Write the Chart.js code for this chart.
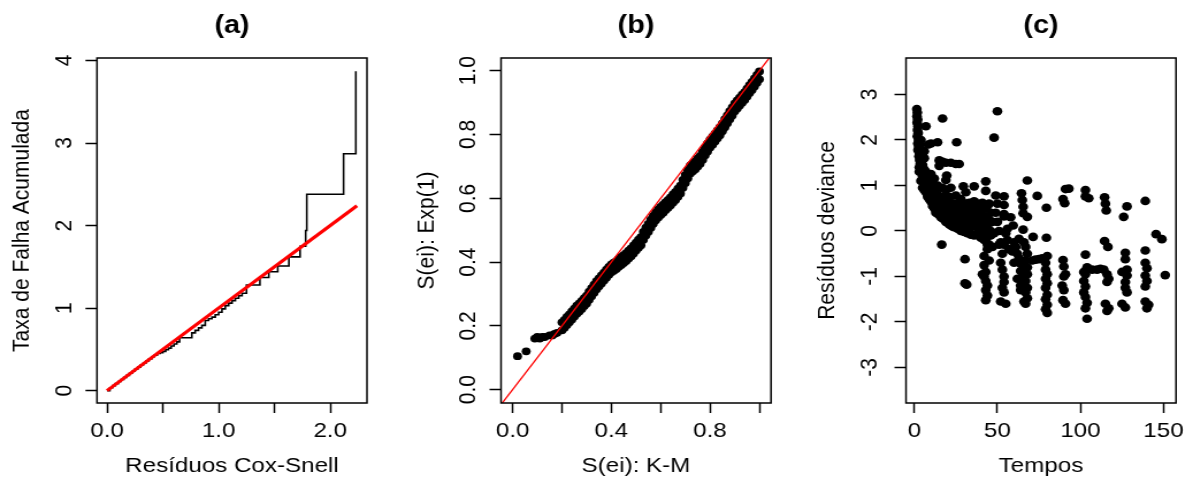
<!DOCTYPE html>
<html>
<head>
<meta charset="utf-8">
<script src="https://cdn.jsdelivr.net/npm/chart.js@4"></script>
<style>
  html, body { margin: 0; padding: 0; background: #fff; }
  #wrap { position: relative; width: 1193px; height: 479px; overflow: hidden; }
  #wrap canvas { position: absolute; left: 0; top: 0; }
</style>
</head>
<body>
<div id="wrap">
  <canvas id="panelA" width="1037" height="479" style="width:1193px;height:479px"></canvas>
  <canvas id="panelB" width="1037" height="479" style="width:1193px;height:479px"></canvas>
  <canvas id="panelC" width="1037" height="479" style="width:1193px;height:479px"></canvas>
</div>
<script>
const FONT = "'Liberation Sans', Arial, sans-serif";
const PAGE_W = 1193, PAGE_H = 479, CANVAS_W = 1037;
const K = CANVAS_W / PAGE_W;          // buffer is stretched sideways by the css width
const FS = 21, LH = FS * 1.2;
const PLOT_TOP = 58, PLOT_BOTTOM = 403, X_TITLE_Y = 466;

// (a) Cox-Snell residuals vs. Nelson-Aalen cumulative hazard
const coxSnell  = [0, 0.025, 0.05, 0.075, 0.1, 0.125, 0.15, 0.175, 0.2, 0.225, 0.25, 0.275, 0.3, 0.325,
                   0.35, 0.375, 0.4, 0.425, 0.45, 0.475, 0.5, 0.525, 0.55, 0.575, 0.6, 0.625, 0.65, 0.76,
                   0.79, 0.82, 0.85, 0.88, 0.91, 0.94, 0.97, 1.0, 1.03, 1.06, 1.09, 1.12, 1.15, 1.18, 1.21,
                   1.25, 1.37, 1.45, 1.53, 1.63, 1.73, 1.78, 1.79, 2.12, 2.23];
const cumHazard = [0, 0.035, 0.06, 0.085, 0.11, 0.135, 0.16, 0.185, 0.21, 0.235, 0.26, 0.285, 0.31, 0.335,
                   0.36, 0.385, 0.41, 0.43, 0.45, 0.46, 0.475, 0.495, 0.515, 0.54, 0.565, 0.59, 0.64, 0.7,
                   0.73, 0.76, 0.79, 0.85, 0.87, 0.89, 0.92, 0.95, 0.99, 1.03, 1.06, 1.09, 1.12, 1.15, 1.18,
                   1.28, 1.37, 1.44, 1.51, 1.62, 1.75, 1.94, 2.38, 2.87, 3.87];
const refLine = [0, 2.24];

// (b) Kaplan-Meier survival of the residuals vs. Exp(1) survival
const survLow = [[0.02,0.105],[0.055,0.12],[0.09,0.16],[0.1,0.165],[0.11,0.16],[0.12,0.165],[0.13,0.165],
                 [0.15,0.17],[0.16,0.17],[0.17,0.175],[0.18,0.178]];
// K-M value, highest and lowest Exp(1) value at that step
const survBand = [
  [0.2,0.211,0.186],[0.21,0.219,0.194],[0.22,0.228,0.203],[0.23,0.236,0.211],[0.24,0.245,0.22],
  [0.25,0.254,0.229],[0.26,0.263,0.238],[0.27,0.27,0.245],[0.28,0.278,0.253],[0.29,0.287,0.262],
  [0.3,0.295,0.27],[0.31,0.307,0.282],[0.32,0.318,0.293],[0.33,0.329,0.304],[0.34,0.34,0.315],
  [0.35,0.349,0.324],[0.36,0.358,0.333],[0.37,0.367,0.342],[0.38,0.376,0.351],[0.39,0.385,0.36],
  [0.4,0.393,0.368],[0.41,0.398,0.373],[0.42,0.403,0.378],[0.43,0.41,0.385],[0.44,0.416,0.391],
  [0.45,0.422,0.397],[0.46,0.428,0.403],[0.47,0.436,0.411],[0.48,0.443,0.418],[0.49,0.452,0.427],
  [0.5,0.461,0.436],[0.51,0.47,0.445],[0.52,0.478,0.453],[0.53,0.495,0.47],[0.54,0.508,0.483],
  [0.55,0.52,0.495],[0.56,0.533,0.508],[0.57,0.545,0.52],[0.58,0.556,0.531],[0.59,0.565,0.54],
  [0.6,0.573,0.548],[0.61,0.58,0.555],[0.62,0.588,0.563],[0.63,0.595,0.57],[0.64,0.603,0.578],
  [0.65,0.612,0.587],[0.66,0.62,0.595],[0.67,0.63,0.605],[0.68,0.64,0.615],[0.69,0.658,0.633],
  [0.7,0.673,0.648],[0.71,0.688,0.663],[0.72,0.703,0.678],[0.73,0.71,0.685],[0.74,0.716,0.691],
  [0.75,0.725,0.7],[0.76,0.733,0.708],[0.77,0.746,0.721],[0.78,0.76,0.735],[0.79,0.772,0.747],
  [0.8,0.784,0.759],[0.81,0.793,0.768],[0.82,0.803,0.778],[0.83,0.813,0.788],[0.84,0.823,0.798],
  [0.85,0.835,0.81],[0.86,0.848,0.823],[0.87,0.86,0.835],[0.88,0.873,0.848],[0.89,0.885,0.86],
  [0.9,0.898,0.873],[0.91,0.907,0.882],[0.92,0.916,0.891],[0.93,0.925,0.9],[0.94,0.933,0.908],
  [0.95,0.944,0.919],[0.96,0.955,0.93],[0.97,0.965,0.94],[0.98,0.976,0.951],[0.99,0.987,0.962],
  [1.0,0.998,0.973]
];

// (c) deviance residuals vs. observed times
const devPairs = [
  // early times, steep column
  [1.5,2.68],[1.8,2.6],[1.6,2.52],[2,2.45],[1.7,2.38],[2.2,2.3],[1.9,2.22],[2.3,2.15],[1.8,2.08],
  [2.5,2.0],[2.1,1.92],[2.6,1.85],[2.2,1.78],[3,1.72],[2.8,1.64],[3.2,1.56],[3.6,1.48],[3,1.4],
  [3.5,1.9],[4,2.0],[4.5,1.78],[6,1.75],[5,1.62],[8.5,1.9],[10,1.92],
  [3,1.3],[4,1.1],[4,1.35],[4,1.6],[5,0.95],[5,1.2],[5,1.45],[6,0.9],[6,1.1],[6,1.35],[6,1.6],
  [7,0.85],[7,1.05],[7,1.3],[8,0.75],[8,0.95],[8,1.15],[9,0.7],[9,0.9],[9,1.1],
  [10,0.65],[10,0.85],[10,1.05],[10,1.25],[11,0.55],[11,0.8],[11,1.0],[12,0.5],[12,0.7],[12,0.95],[12,1.15],
  [13,0.4],[13,0.6],[13,0.85],[14,0.38],[14,0.55],[14,0.8],[14,1.0],[15,0.35],[15,0.5],[15,0.7],[15,0.95],
  [16,0.3],[16,0.45],[16,0.65],[17,0.28],[17,0.5],[17,0.75],[17,0.95],[18,0.25],[18,0.4],[18,0.6],
  [19,0.2],[19,0.45],[19,0.7],[19,0.9],[20,0.18],[20,0.35],[20,0.55],[21,0.15],[21,0.3],[21,0.5],[21,0.75],
  [22,0.12],[22,0.4],[22,0.62],[22,0.95],[23,0.1],[23,0.28],[23,0.5],[24,0.08],[24,0.35],[24,0.6],
  [25,0.1],[25,0.22],[25,0.45],[25,0.78],[26,0.05],[26,0.3],[26,0.55],[27,0.12],[27,0.4],[27,0.62],
  [28,0.0],[28,0.25],[28,0.5],[28,0.7],[29,0.08],[29,0.35],[29,0.6],[30,-0.02],[30,0.2],[30,0.45],
  [31,0.1],[31,0.3],[31,0.6],[31,0.85],[32,-0.05],[32,0.2],[32,0.5],[33,0.05],[33,0.35],[33,0.62],
  [34,-0.08],[34,0.15],[34,0.45],[35,0.25],[35,0.55],[36,-0.1],[36,0.1],[36,0.4],[36,0.65],
  [37,0.2],[37,0.5],[38,-0.05],[38,0.3],[38,0.6],[39,0.05],[39,0.45],[40,-0.15],[40,0.2],[40,0.55],
  [41,0.0],[41,0.35],[41,0.62],[42,-0.2],[42,0.15],[42,0.5],[43,-0.05],[43,0.3],[44,-0.3],[44,0.1],[44,0.55],
  [45,-0.1],[45,0.25],[45,0.6],[46,0.0],[46,0.4],[47,-0.35],[47,0.2],
  // scattered points above the band
  [7,2.3],[17,2.47],[50,2.63],[48,2.05],[14,1.95],[25.5,1.95],[15,1.55],[15,1.43],[17,1.52],[19,1.5],
  [22,1.5],[25,1.47],[27,1.47],[19.5,1.22],[19,1.12],[29.5,0.98],[36,0.98],[43,1.09],[43,0.88],
  [68,1.11],[91,0.92],[93,0.93],[103,0.9],[103,0.76],[105,0.72],[114.5,0.74],[115,0.6],[115.5,0.45],
  [126,0.31],[128,0.54],[139,0.66],[145.5,-0.07],[149,-0.18],[151,-0.97],[16.5,-0.3],[30.5,-0.62],
  [30.5,-1.15],[31.5,-1.18],
  [50,0.6],[54,0.76],[54,0.57],[54,0.37],[64.5,0.83],[65,0.68],[65.5,0.53],[65.5,0.39],[74,0.77],
  [79.5,0.51],[68,0.31],[54,0.32],[59.5,0.12],[65.5,0.03],[51,0.0],[71.5,-0.13],[79.5,-0.15],
  [89.5,0.7],[90.5,0.61],[66,-0.25],[49,0.78],[49,0.4],[50,0.2],[48,-0.05],[51,-0.3],[56,0.05],[58,0.3],
  // lower clusters at repeated times
  [43,-0.2],[44,-0.4],[42,-0.55],[42,-0.75],[43,-0.9],[42,-1.0],[43,-1.1],[44,-1.2],[43,-1.3],
  [44,-1.42],[43,-1.52],[41,-0.95],[45,-0.65],[45,-0.3],[46,-0.1],[40,-0.05],
  [52,-0.25],[54,-0.3],[53,-0.5],[52,-0.7],[53,-0.85],[54,-1.0],[54,-1.12],[53,-1.25],[54,-1.35],
  [52,-1.55],[55,-1.6],[57,-0.4],[55,-0.05],[56,-0.2],
  [61,-0.35],[62,-0.5],[63,-0.6],[64,-0.72],[64,-0.88],[65,-1.0],[65,-1.1],[64,-1.2],[64,-1.3],
  [60,-0.7],[60,-0.25],[63,-0.17],[62,-1.05],[59,-0.45],
  [67,-0.35],[68,-0.5],[67,-0.65],[68,-0.8],[68,-0.95],[67,-1.1],[68,-1.25],[67,-1.35],[68,-1.48],
  [67,-1.6],[66,-1.55],
  [71,-0.65],[73,-0.63],[75,-0.62],[77,-0.6],[80,-0.55],
  [79,-0.7],[79,-0.85],[80,-0.95],[79,-1.05],[80,-1.15],[79,-1.25],[80,-1.4],[79,-1.5],[80,-1.62],
  [79,-1.72],[80,-1.8],
  [89.5,-0.64],[90,-0.78],[91,-0.95],[90,-1.0],[89,-1.2],[90,-1.3],[89.5,-1.52],[91,-1.6],
  [103,-0.52],[104,-0.8],[102,-0.9],[103,-0.95],[102,-1.1],[103,-1.22],[102,-1.35],[103,-1.45],
  [104,-1.58],[103,-1.7],[104,-1.93],
  [107,-0.85],[110,-0.85],[112,-0.83],
  [114.5,-0.22],[116.5,-0.35],[114,-0.85],[116,-0.95],[117,-1.05],[116,-1.12],[115,-1.6],[117,-1.7],[116,-1.76],
  [127,-0.48],[127,-0.62],[128,-0.85],[125,-0.9],[128,-0.98],[127,-1.12],[127,-1.25],[128,-1.35],
  [125,-1.6],[127,-1.68],
  [139,-0.43],[139,-0.7],[140,-0.82],[139,-0.98],[140,-1.1],[139,-1.22],[139,-1.55],[141,-1.62],[140,-1.7]
];

// axis settings for the three panels
const panels = {
  a: {
    title: '(a)', xTitle: 'Resíduos Cox-Snell', yTitle: 'Taxa de Falha Acumulada',
    left: 97, right: 367, yTitleX: 22, yLabelX: 64.5,
    xMin: -0.09, xMax: 2.33, yMin: -0.15, yMax: 4.03,
    xTicks: [0, 0.5, 1, 1.5, 2], xLabels: ['0.0', '', '1.0', '', '2.0'],
    yTicks: [0, 1, 2, 3, 4], yLabels: ['0', '1', '2', '3', '4']
  },
  b: {
    title: '(b)', xTitle: 'S(ei): K-M', yTitle: 'S(ei): Exp(1)',
    left: 501, right: 771, yTitleX: 427, yLabelX: 469,
    xMin: -0.047, xMax: 1.047, yMin: -0.042, yMax: 1.04,
    xTicks: [0, 0.2, 0.4, 0.6, 0.8, 1], xLabels: ['0.0', '', '0.4', '', '0.8', ''],
    yTicks: [0, 0.2, 0.4, 0.6, 0.8, 1], yLabels: ['0.0', '0.2', '0.4', '0.6', '0.8', '1.0']
  },
  c: {
    title: '(c)', xTitle: 'Tempos', yTitle: 'Resíduos deviance',
    left: 906, right: 1176, yTitleX: 827, yLabelX: 869.5,
    xMin: -5, xMax: 157.5, yMin: -3.78, yMax: 3.8,
    xTicks: [0, 50, 100, 150], xLabels: ['0', '50', '100', '150'],
    yTicks: [-3, -2, -1, 0, 1, 2, 3], yLabels: ['-3', '-2', '-1', '0', '1', '2', '3']
  }
};

Chart.defaults.font.family = FONT;
Chart.defaults.color = '#000';

// box round the plot region plus R-style rotated y tick labels
const rFrame = {
  id: 'rFrame',
  afterDraw(chart, args, opts) {
    const {ctx, chartArea: a} = chart;
    const y = chart.scales.y;
    ctx.save();
    ctx.strokeStyle = '#000';
    ctx.lineWidth = 1.5;
    ctx.strokeRect(a.left, a.top, a.right - a.left, a.bottom - a.top);
    ctx.fillStyle = '#000';
    ctx.font = FS + 'px ' + FONT;
    ctx.textAlign = 'center';
    ctx.textBaseline = 'middle';
    opts.ticks.forEach((v, i) => {
      ctx.save();
      ctx.translate(opts.labelX * K, y.getPixelForValue(v));
      ctx.rotate(-Math.PI / 2);
      ctx.fillText(opts.labels[i], 0, 0);
      ctx.restore();
    });
    ctx.restore();
  }
};

function buildOptions(p) {
  const padLeft = p.yTitleX * K - LH / 2;
  const padBottom = PAGE_H - (X_TITLE_Y + LH / 2);
  const font = {family: FONT, size: FS};
  const tickGrid = {drawOnChartArea: false, drawTicks: true, tickLength: 10, tickWidth: 1.5, tickColor: '#000'};
  return {
    responsive: false,
    devicePixelRatio: 1,
    animation: false,
    events: [],
    layout: {padding: {left: padLeft, right: CANVAS_W - p.right * K, top: 0, bottom: padBottom}},
    scales: {
      x: {
        type: 'linear', min: p.xMin, max: p.xMax,
        afterBuildTicks: s => { s.ticks = p.xTicks.map(v => ({value: v})); },
        afterFit: s => { s.height = PAGE_H - padBottom - PLOT_BOTTOM; },
        grid: tickGrid,
        border: {display: false},
        ticks: {autoSkip: false, maxRotation: 0, minRotation: 0, padding: 6, color: '#000', font,
                callback: (v, i) => p.xLabels[i]},
        title: {display: true, text: p.xTitle, color: '#000', font, padding: 0}
      },
      y: {
        type: 'linear', min: p.yMin, max: p.yMax,
        afterBuildTicks: s => { s.ticks = p.yTicks.map(v => ({value: v})); },
        afterFit: s => { s.width = p.left * K - padLeft; },
        grid: tickGrid,
        border: {display: false},
        ticks: {display: false},
        title: {display: true, text: p.yTitle, color: '#000', font, padding: 0}
      }
    },
    plugins: {
      legend: {display: false},
      tooltip: {enabled: false},
      title: {display: true, text: p.title, color: '#000', fullSize: false,
              font: {family: FONT, size: 25, weight: 'bold'}, padding: {top: 11, bottom: PLOT_TOP - 11 - 30}},
      rFrame: {ticks: p.yTicks, labels: p.yLabels, labelX: p.yLabelX}
    }
  };
}

const dot = r => ({type: 'scatter', pointRadius: r, pointHoverRadius: r, pointBackgroundColor: '#000', pointBorderWidth: 0});

new Chart(document.getElementById('panelA'), {
  type: 'scatter',
  data: {datasets: [
    {type: 'line', data: refLine.map(v => ({x: v, y: v})), borderColor: '#ff0000', borderWidth: 3.2, pointRadius: 0},
    {type: 'line', data: coxSnell.map((x, i) => ({x, y: cumHazard[i]})), stepped: 'before',
     borderColor: '#000', borderWidth: 1.6, pointRadius: 0}
  ]},
  options: buildOptions(panels.a),
  plugins: [rFrame]
});

const survPoints = survLow.map(([x, y]) => ({x, y}));
survBand.forEach(([x, hi, lo]) => { survPoints.push({x, y: hi}, {x, y: lo}); });

new Chart(document.getElementById('panelB'), {
  type: 'scatter',
  data: {datasets: [
    {type: 'line', data: [{x: -0.1, y: -0.1}, {x: 1.1, y: 1.1}], borderColor: '#ff0000', borderWidth: 1.3,
     pointRadius: 0, clip: 0},
    Object.assign({data: survPoints}, dot(3.9))
  ]},
  options: buildOptions(panels.b),
  plugins: [rFrame]
});

new Chart(document.getElementById('panelC'), {
  type: 'scatter',
  data: {datasets: [
    Object.assign({data: devPairs.map(([x, y]) => ({x, y}))}, dot(4.3))
  ]},
  options: buildOptions(panels.c),
  plugins: [rFrame]
});
</script>
</body>
</html>
